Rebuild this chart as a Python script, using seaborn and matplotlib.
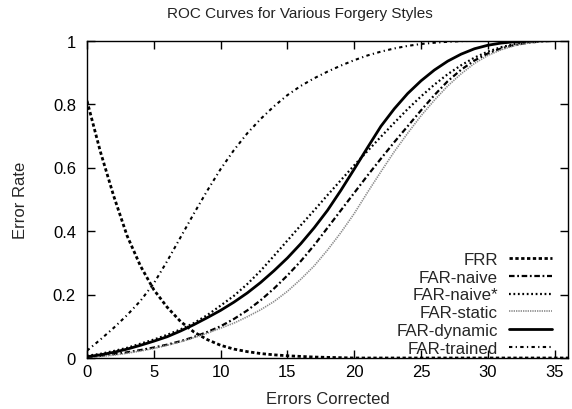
import numpy as np
import pandas as pd
import matplotlib
matplotlib.use("Agg")
import matplotlib.pyplot as plt
import seaborn as sns

errors = list(range(0, 37))

frr = [0.81, 0.65, 0.51, 0.385, 0.29, 0.215, 0.16, 0.115, 0.082, 0.058,
       0.04, 0.028, 0.02, 0.014, 0.01, 0.007, 0.005, 0.003, 0.002, 0.001,
       0.0, 0.0, 0.0, 0.0, 0.0, 0.0, 0.0, 0.0, 0.0, 0.0,
       0.0, 0.0, 0.0, 0.0, 0.0, 0.0, 0.0]
far_naive = [0.003, 0.007, 0.012, 0.018, 0.025, 0.033, 0.042, 0.053, 0.066, 0.082,
             0.1, 0.123, 0.15, 0.182, 0.219, 0.26, 0.305, 0.355, 0.41, 0.465,
             0.52, 0.575, 0.628, 0.68, 0.73, 0.78, 0.828, 0.872, 0.908, 0.937,
             0.959, 0.975, 0.986, 0.993, 0.997, 0.999, 1.0]
far_naive_star = [0.007, 0.013, 0.022, 0.032, 0.045, 0.058, 0.073, 0.09, 0.11, 0.135,
                  0.165, 0.196, 0.233, 0.275, 0.322, 0.37, 0.418, 0.465, 0.513, 0.56,
                  0.607, 0.652, 0.697, 0.741, 0.784, 0.824, 0.861, 0.894, 0.922, 0.946,
                  0.965, 0.979, 0.989, 0.995, 0.998, 1.0, 1.0]
far_static = [0.002, 0.005, 0.009, 0.015, 0.022, 0.03, 0.04, 0.051, 0.064, 0.078,
              0.094, 0.11, 0.13, 0.152, 0.178, 0.21, 0.248, 0.29, 0.34, 0.395,
              0.455, 0.522, 0.587, 0.65, 0.708, 0.763, 0.812, 0.857, 0.895, 0.928,
              0.953, 0.971, 0.984, 0.992, 0.996, 0.999, 1.0]
far_dynamic = [0.004, 0.01, 0.018, 0.028, 0.04, 0.053, 0.067, 0.085, 0.105, 0.127,
               0.15, 0.176, 0.205, 0.238, 0.275, 0.315, 0.36, 0.41, 0.465, 0.528,
               0.595, 0.663, 0.73, 0.785, 0.833, 0.873, 0.907, 0.935, 0.957, 0.974,
               0.985, 0.992, 0.996, 0.998, 1.0, 1.0, 1.0]
far_trained = [0.023, 0.058, 0.095, 0.135, 0.18, 0.235, 0.305, 0.38, 0.455, 0.527,
               0.595, 0.655, 0.708, 0.753, 0.793, 0.828, 0.857, 0.881, 0.902, 0.921,
               0.938, 0.953, 0.965, 0.975, 0.983, 0.989, 0.993, 0.996, 0.998, 0.999,
               1.0, 1.0, 1.0, 1.0, 1.0, 1.0, 1.0]

series_names = ["FRR", "FAR-naive", "FAR-naive*", "FAR-static", "FAR-dynamic", "FAR-trained"]
series_values = [frr, far_naive, far_naive_star, far_static, far_dynamic, far_trained]

x_ticks = [0, 5, 10, 15, 20, 25, 30, 35]
y_ticks = [0, 0.2, 0.4, 0.6, 0.8, 1]
y_tick_labels = ["0", "0.2", "0.4", "0.6", "0.8", "1"]

sns.set_theme(style="ticks")
plt.rcParams["font.family"] = ["Liberation Sans", "DejaVu Sans"]

styles = {
    "FRR": dict(color="black", lw=2.0, dashes=(1.2, 0.9)),
    "FAR-naive": dict(color="black", lw=1.6, dashes=(2.5, 1.2, 0.8, 1.2)),
    "FAR-naive*": dict(color="black", lw=1.6, dashes=(0.8, 1.2)),
    "FAR-static": dict(color="#8a8a8a", lw=1.2, dashes=(0.8, 0.6)),
    "FAR-dynamic": dict(color="black", lw=2.0, dashes=None),
    "FAR-trained": dict(color="black", lw=1.5, dashes=(1.6, 1.6, 0.6, 1.6)),
}

fig = plt.figure(figsize=(5.72, 4.10), dpi=100)
ax = fig.add_axes([87 / 572, 1 - 359 / 410, (568 - 87) / 572, (359 - 41.5) / 410])

for name, vals in zip(series_names, series_values):
    df = pd.DataFrame({"Errors Corrected": errors, "Error Rate": vals})
    st = styles[name]
    sns.lineplot(data=df, x="Errors Corrected", y="Error Rate", ax=ax,
                 color=st["color"], linewidth=st["lw"], label=name)
    line = ax.lines[-1]
    if st["dashes"] is not None:
        line.set_dashes(st["dashes"])
    line.set_dash_capstyle("butt")
    line.set_solid_joinstyle("round")

ax.set_xlim(0, 36)
ax.set_ylim(0, 1)
ax.set_xticks(x_ticks)
ax.set_yticks(y_ticks)
ax.set_yticklabels(y_tick_labels)
ax.tick_params(direction="in", length=6, width=1, top=True, right=True,
               labelsize=12, colors="black")
ax.tick_params(axis="x", pad=4)
ax.tick_params(axis="y", pad=8)
for sp in ax.spines.values():
    sp.set_visible(True)
    sp.set_linewidth(1)
    sp.set_color("black")

fig.text(300 / 572, 1 - 14 / 410, "ROC Curves for Various Forgery Styles",
         fontsize=11, ha="center", va="center", color="#222222")
ax.set_xlabel("Errors Corrected", fontsize=12, labelpad=9)
ax.set_ylabel("Error Rate", fontsize=12, labelpad=18)

leg = ax.legend(loc="lower right", frameon=False, markerfirst=False, fontsize=12.2,
                handlelength=2.55, handletextpad=0.65, labelspacing=0.17,
                borderpad=0.0, borderaxespad=0.0, bbox_to_anchor=(0.967, 0.006))

fig.savefig("out.png", dpi=100)
